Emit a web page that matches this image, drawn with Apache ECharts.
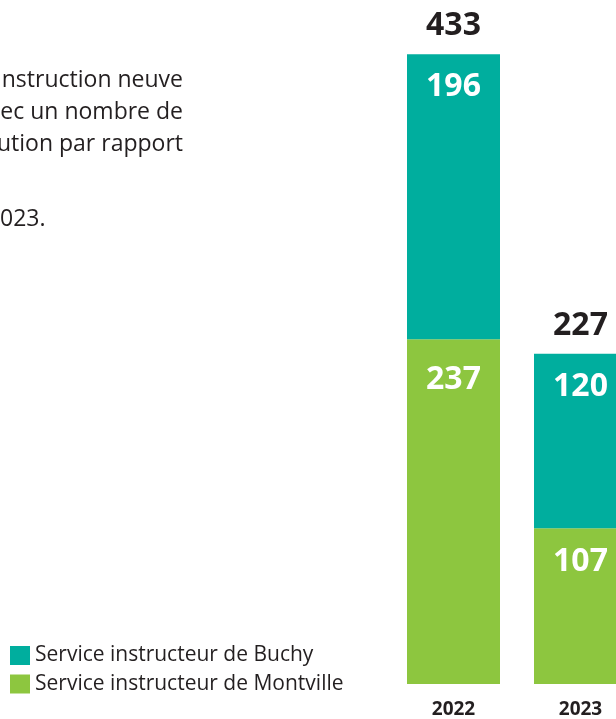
<!DOCTYPE html>
<html>
<head>
<meta charset="utf-8">
<script src="https://cdn.jsdelivr.net/npm/echarts@6/dist/echarts.min.js"></script>
<style>
  html, body { margin: 0; padding: 0; background: #fff; }
  #chart { width: 616px; height: 719px; }
</style>
</head>
<body>
<div id="chart"></div>
<script>
const years = ['2022', '2023'];
const buchy = [196, 120];
const montville = [237, 107];
const seriesNames = ['Service instructeur de Buchy', 'Service instructeur de Montville'];
const textLines = ['nstruction neuve', 'ec un nombre de', 'ution par rapport', '023.'];

const totals = years.map((_, i) => buchy[i] + montville[i]);

const teal = '#00ae9e';
const green = '#8dc63f';
const dark = '#231f20';
const fontFam = '"Open Sans", "Noto Sans", sans-serif';

const chart = echarts.init(document.getElementById('chart'), null, { renderer: 'canvas' });

const innerLabel = {
  show: true,
  position: 'insideTop',
  distance: 17,
  color: '#fff',
  fontSize: 32,
  fontWeight: 'bold',
  fontFamily: fontFam
};

const textStyle = (t) => ({ text: t, textVerticalAlign: 'middle', font: '23px ' + fontFam, fill: dark });

chart.setOption({
  animation: false,
  backgroundColor: '#fff',
  grid: { left: 453.5, width: 127, top: 44, bottom: 31, containLabel: false },
  legend: {
    orient: 'vertical',
    left: 10,
    top: 645,
    padding: 0,
    itemWidth: 20,
    itemHeight: 19,
    itemGap: 7.5,
    icon: 'rect',
    textStyle: { fontSize: 21, color: dark, fontFamily: fontFam },
    data: seriesNames
  },
  xAxis: {
    type: 'category',
    data: years,
    boundaryGap: false,
    axisLine: { show: false },
    axisTick: { show: false },
    splitLine: { show: false },
    axisLabel: { color: dark, fontSize: 19, fontWeight: 'bold', fontFamily: fontFam, margin: 16 }
  },
  yAxis: {
    type: 'value',
    min: 0,
    max: 440,
    show: false,
    splitLine: { show: false }
  },
  series: [
    {
      name: seriesNames[1],
      type: 'bar',
      stack: 'total',
      barWidth: 93,
      clip: false,
      itemStyle: { color: green },
      label: innerLabel,
      data: montville.map((v, i) => ({ value: v, label: { distance: i === 0 ? 25 : 18 } }))
    },
    {
      name: seriesNames[0],
      type: 'bar',
      stack: 'total',
      barWidth: 93,
      clip: false,
      itemStyle: { color: teal },
      label: innerLabel,
      data: buchy
    },
    {
      name: 'total',
      type: 'scatter',
      symbolSize: 0,
      silent: true,
      clip: false,
      itemStyle: { opacity: 1 },
      data: totals,
      label: {
        show: true,
        position: 'top',
        distance: 12,
        color: dark,
        opacity: 1,
        fontSize: 32,
        fontWeight: 'bold',
        fontFamily: fontFam,
        formatter: p => String(p.value)
      }
    }
  ],
  graphic: [
    { type: 'text', x: 183, y: 80, style: Object.assign(textStyle(textLines[0]), { textAlign: 'right' }) },
    { type: 'text', x: 183, y: 112, style: Object.assign(textStyle(textLines[1]), { textAlign: 'right' }) },
    { type: 'text', x: 183, y: 144, style: Object.assign(textStyle(textLines[2]), { textAlign: 'right' }) },
    { type: 'text', x: 0, y: 219, style: Object.assign(textStyle(textLines[3]), { textAlign: 'left' }) }
  ]
});
</script>
</body>
</html>
